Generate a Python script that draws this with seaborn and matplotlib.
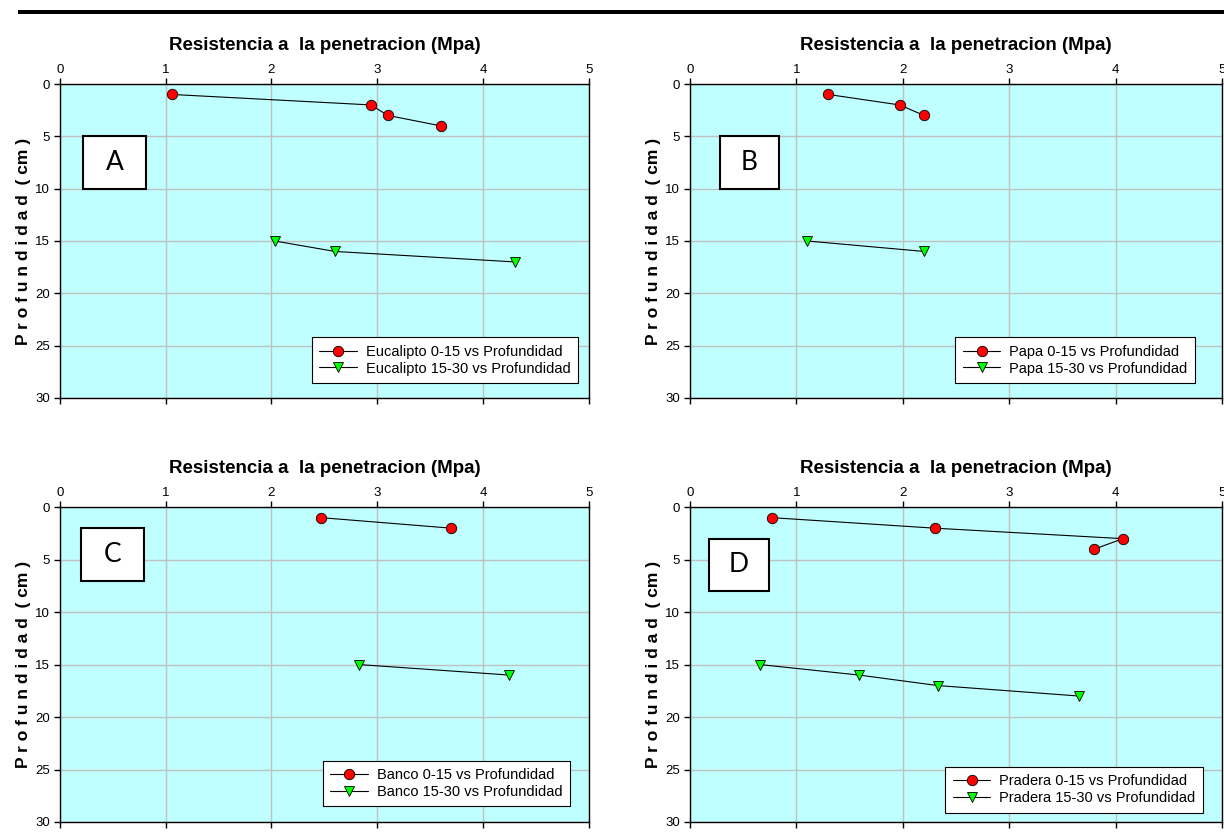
import matplotlib
matplotlib.use("Agg")
import matplotlib.pyplot as plt
import matplotlib.patches as patches
import seaborn as sns
import pandas as pd

# --- data ---
panel_names = ["A", "B", "C", "D"]
series_names = ["Eucalipto", "Papa", "Banco", "Pradera"]

top_x = {
    "A": [1.06, 2.94, 3.10, 3.60],
    "B": [1.30, 1.97, 2.20],
    "C": [2.47, 3.70],
    "D": [0.77, 2.30, 4.07, 3.80],
}
top_depth = {
    "A": [1, 2, 3, 4],
    "B": [1, 2, 3],
    "C": [1, 2],
    "D": [1, 2, 3, 4],
}
low_x = {
    "A": [2.03, 2.60, 4.30],
    "B": [1.10, 2.20],
    "C": [2.83, 4.25],
    "D": [0.66, 1.59, 2.33, 3.66],
}
low_depth = {
    "A": [15, 16, 17],
    "B": [15, 16],
    "C": [15, 16],
    "D": [15, 16, 17, 18],
}
# letter boxes (x0, x1, y0, y1) in data units
letter_boxes = {
    "A": (0.22, 0.81, 5, 10),
    "B": (0.28, 0.84, 5, 10),
    "C": (0.20, 0.79, 2, 7),
    "D": (0.18, 0.74, 3, 8),
}
legend_anchor = {
    "A": (0.979, 0.048),
    "B": (0.949, 0.048),
    "C": (0.964, 0.05),
    "D": (0.964, 0.03),
}

x_ticks = [0, 1, 2, 3, 4, 5]
y_ticks = [0, 5, 10, 15, 20, 25, 30]
title_text = "Resistencia a  la penetracion (Mpa)"
ylabel_text = "P r o f u n d i d a d  ( cm )"

sns.set_style("white")
plt.rcParams["font.family"] = ["Liberation Sans", "DejaVu Sans"]
plt.rcParams["text.color"] = "black"
plt.rcParams["axes.labelcolor"] = "black"
plt.rcParams["xtick.color"] = "black"
plt.rcParams["ytick.color"] = "black"

fig = plt.figure(figsize=(12.24, 8.35), dpi=100)

axes_rects = {
    "A": [0.049, 0.5234, 0.432, 0.376],
    "B": [0.5637, 0.5234, 0.4346, 0.376],
    "C": [0.049, 0.0156, 0.432, 0.377],
    "D": [0.5637, 0.0156, 0.4346, 0.377],
}

# black rule at the very top
fig.add_artist(patches.Rectangle((0.015, 0.983), 0.985, 0.0055,
                                 transform=fig.transFigure, color="black", lw=0))

for name, series in zip(panel_names, series_names):
    ax = fig.add_axes(axes_rects[name])
    ax.set_facecolor("#C0FFFF")

    df_top = pd.DataFrame({"x": top_x[name], "depth": top_depth[name]})
    df_low = pd.DataFrame({"x": low_x[name], "depth": low_depth[name]})

    sns.lineplot(data=df_top, x="x", y="depth", sort=False, estimator=None,
                 color="black", lw=0.8, marker="o", markersize=7.5,
                 markerfacecolor="#FF0000", markeredgecolor="black",
                 markeredgewidth=0.6, label=f"{series} 0-15 vs Profundidad",
                 ax=ax, zorder=3)
    sns.lineplot(data=df_low, x="x", y="depth", sort=False, estimator=None,
                 color="black", lw=0.8, marker="v", markersize=7,
                 markerfacecolor="#00FF00", markeredgecolor="black",
                 markeredgewidth=0.6, label=f"{series} 15-30 vs Profundidad",
                 ax=ax, zorder=3)

    ax.set_xlim(0, 5)
    ax.set_ylim(30, 0)
    ax.set_xticks(x_ticks)
    ax.set_yticks(y_ticks)
    ax.grid(True, color="#C0C0C0", lw=1)
    ax.set_axisbelow(True)
    for sp in ax.spines.values():
        sp.set_color("black")
        sp.set_linewidth(1)

    ax.tick_params(axis="x", top=True, labeltop=True, bottom=True,
                   labelbottom=False, direction="out", length=4,
                   width=1, labelsize=9.5, pad=2)
    ax.tick_params(axis="y", left=True, direction="out", length=4,
                   width=1, labelsize=9.5, pad=3)

    ax.set_xlabel("")
    ax.set_title(title_text, fontsize=13.5, fontweight="bold", pad=10)
    ax.set_ylabel(ylabel_text, fontsize=12.5, fontweight="bold", labelpad=3)

    x0, x1, y0, y1 = letter_boxes[name]
    ax.add_patch(patches.Rectangle((x0, y0), x1 - x0, y1 - y0,
                                   facecolor="white", edgecolor="black",
                                   lw=1.5, zorder=4))
    ax.text((x0 + x1) / 2, (y0 + y1) / 2, name, ha="center", va="center",
            fontsize=19, family=["Lato", "DejaVu Sans"], zorder=5)

    leg = ax.legend(loc="lower right", bbox_to_anchor=legend_anchor[name],
                    fontsize=10.5, frameon=True, fancybox=False,
                    edgecolor="black", framealpha=1, handlelength=2.6,
                    handletextpad=0.6, borderpad=0.5, labelspacing=0.2,
                    borderaxespad=0)
    leg.get_frame().set_linewidth(0.8)

fig.savefig("out.png", dpi=100)
